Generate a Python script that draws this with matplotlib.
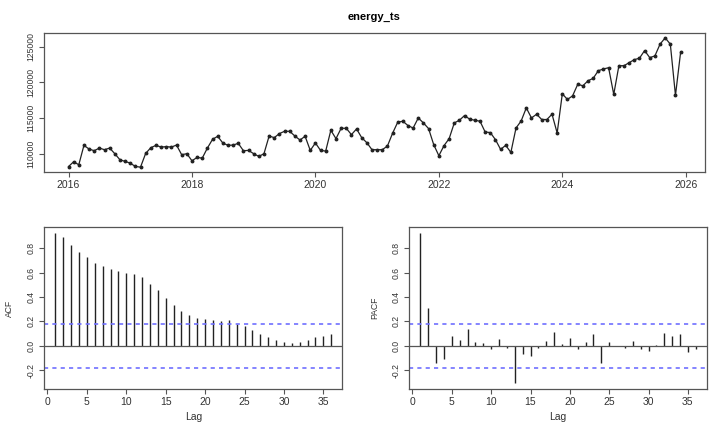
import numpy as np
import matplotlib
matplotlib.use("Agg")
import matplotlib.pyplot as plt
from matplotlib.ticker import FuncFormatter

plt.rcParams["font.family"] = ["Liberation Sans", "DejaVu Sans"]
plt.rcParams["axes.unicode_minus"] = False

# monthly series, Jan 2016 .. Dec 2025
energy = [
    108200, 108870, 108450, 111170, 110650, 110420, 110790, 110560, 110790, 110000, 109150, 108920,
    108680, 108210, 108120, 110040, 110840, 111170, 110930, 110990, 110930, 111210, 109860, 110000,
    109010, 109480, 109380, 110790, 112010, 112440, 111500, 111170, 111210, 111450, 110420, 110460,
    110000, 109620, 110000, 112480, 112250, 112820, 113140, 113140, 112480, 111920, 112440, 110460,
    111500, 110460, 110370, 113280, 112110, 113560, 113560, 112670, 113470, 112250, 111540, 110560,
    110560, 110560, 111070, 112860, 114410, 114550, 113940, 113600, 115010, 114310, 113520, 111270,
    109720, 111130, 112110, 114310, 114690, 115350, 114830, 114690, 114550, 113040, 112960, 111970,
    110610, 111170, 110180, 113600, 114590, 116420, 115010, 115530, 114790, 114790, 115530, 112900,
    118390, 117600, 118110, 119720, 119520, 120220, 120560, 121630, 121870, 122050, 118310, 122330,
    122330, 122760, 123180, 123380, 124450, 123460, 123700, 125350, 126230, 125350, 118170, 124220,
]
start_year = 2016
year_ticks = [2016, 2018, 2020, 2022, 2024, 2026]
value_ticks = [110000, 115000, 120000, 125000]

lags = list(range(1, 37))
acf_vals = [
    0.922, 0.895, 0.827, 0.767, 0.724, 0.678, 0.656, 0.631, 0.615, 0.596, 0.585, 0.566,
    0.503, 0.460, 0.392, 0.335, 0.286, 0.253, 0.231, 0.223, 0.210, 0.207, 0.210, 0.177,
    0.166, 0.133, 0.098, 0.076, 0.044, 0.035, 0.022, 0.035, 0.044, 0.076, 0.084, 0.093,
]
pacf_vals = [
    0.922, 0.310, -0.144, -0.106, 0.084, 0.046, 0.136, 0.035, 0.027, -0.024, 0.057, -0.019,
    -0.307, -0.063, -0.084, -0.019, 0.038, 0.112, 0.016, 0.068, -0.030, 0.033, 0.098, -0.144,
    0.033, -0.003, -0.014, 0.041, -0.024, -0.046, 0.008, 0.106, 0.079, 0.095, -0.054, -0.024,
]
clim = 1.96 / np.sqrt(len(energy))
lag_ticks = [0, 5, 10, 15, 20, 25, 30, 35]
cor_ticks = [-0.2, 0.0, 0.2, 0.4, 0.6, 0.8]

FS = 7.5      # horizontal text
FS_Y = 6.2    # rotated y tick labels
EDGE = "#555555"
TXT = "#333333"


def r_range(lo, hi, frac=0.04):
    pad = (hi - lo) * frac
    return lo - pad, hi + pad


def r_style(ax):
    for s in ax.spines.values():
        s.set_color(EDGE)
        s.set_linewidth(0.9)
    ax.tick_params(direction="out", length=3.5, width=0.8, color=EDGE,
                   labelsize=FS, labelcolor=TXT, pad=2)
    ax.tick_params(axis="y", labelsize=FS_Y, pad=3)
    for lab in ax.get_yticklabels():
        lab.set_rotation(90)
        lab.set_va("center")


fig = plt.figure(figsize=(7.17, 4.23), dpi=100)

# ----- time series --------------------------------------------------- #
t = start_year + np.arange(len(energy)) / 12.0
ax = fig.add_axes([0.0614, 0.5927, 0.922, 0.330])
ax.plot(t, energy, color="#222222", lw=0.9, marker="o", ms=1.8)
ax.set_xlim(*r_range(t.min(), t.max()))
ax.set_ylim(*r_range(min(energy), max(energy)))
ax.set_xticks(year_ticks)
ax.set_yticks(value_ticks)
ax.set_title("energy_ts", fontsize=8, fontweight="bold", pad=9)
r_style(ax)

# ----- ACF / PACF ---------------------------------------------------- #
lo = min(min(acf_vals), min(pacf_vals), -clim)
hi = max(max(acf_vals), max(pacf_vals), clim)
panels = [
    ([0.0618, 0.0797, 0.4156, 0.383], acf_vals, "ACF"),
    ([0.5709, 0.0797, 0.4148, 0.383], pacf_vals, "PACF"),
]
for rect, vals, name in panels:
    ax = fig.add_axes(rect)
    ax.vlines(lags, 0, vals, color="#222222", lw=1.0)
    ax.axhline(0, color="#555555", lw=0.9)
    for c in (clim, -clim):
        ax.axhline(c, color="#7070ff", lw=1.2, ls=(0, (2.5, 2.5)))
    ax.set_xlim(*r_range(min(lags), max(lags)))
    ax.set_ylim(*r_range(lo, hi))
    ax.set_xticks(lag_ticks)
    ax.set_yticks(cor_ticks)
    ax.yaxis.set_major_formatter(FuncFormatter(lambda v, p: f"{v:.1f}"))
    ax.set_xlabel("Lag", fontsize=FS, color=TXT, labelpad=4)
    ax.set_ylabel(name, fontsize=FS_Y, color=TXT, labelpad=9)
    r_style(ax)

fig.savefig("out.png", dpi=100)
